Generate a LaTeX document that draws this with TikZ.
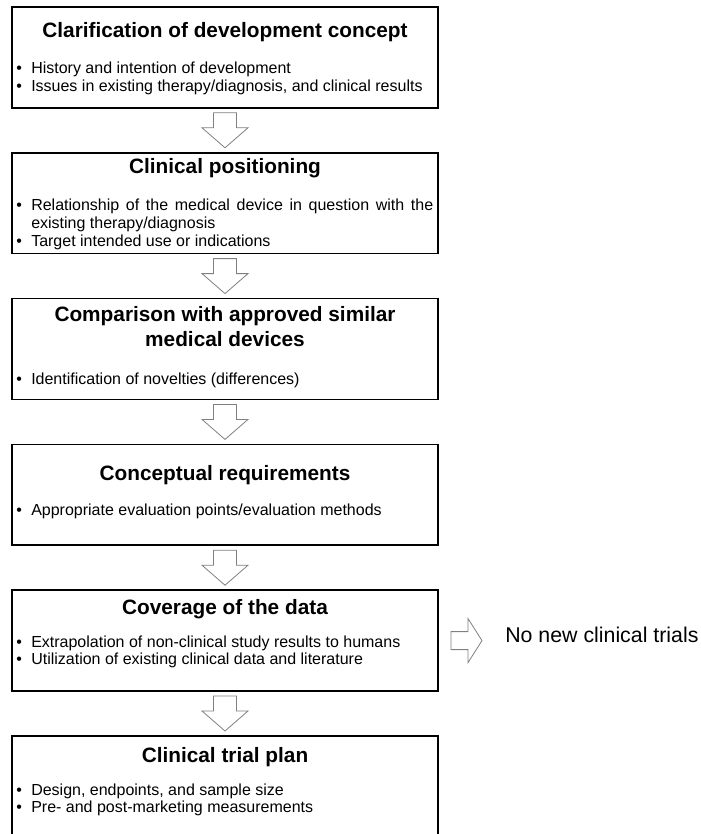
\documentclass[tikz,border=0pt]{standalone}
\usepackage{fontspec}
\setmainfont{Liberation Sans}
\usepackage{tikz}
\usetikzlibrary{positioning, calc}
\definecolor{ArrowGray}{HTML}{808080}
\newcommand{\bul}[1]{\noindent\hangindent=11.25pt\makebox[11.25pt][l]{\textbullet}#1\par}

\begin{document}
\begin{tikzpicture}[
  node distance = 33.75pt,
  stage/.style  = {draw, line width=1.1pt, outer sep=0pt,
                   minimum width=319.5pt, minimum height=75.6pt},
  head/.style   = {inner sep=0pt, align=center,
                   font=\fontsize{15.6pt}{18.75pt}\selectfont\bfseries},
  items/.style  = {inner sep=0pt, text width=312.75pt, align=justify,
                   font=\fontsize{12pt}{13.3pt}\selectfont},
  note/.style   = {inner sep=0pt, font=\fontsize{16pt}{19pt}\selectfont},
  hollow/.style = {draw=ArrowGray, fill=white, line width=0.6pt},
]
\useasboundingbox (0,0) rectangle (525pt,-625.5pt);
% stage boxes
\node[stage, anchor=north] (s1) at (168.75pt,-5.25pt) {};
\node[stage, below=of s1] (s2) {};
\node[stage, below=of s2] (s3) {};
\node[stage, below=of s3] (s4) {};
\node[stage, below=of s4] (s5) {};
\node[stage, below=of s5] (s6) {};
% titles
\node[head, below=23.25pt of s1.north, anchor=base] (h1) {Clarification of development concept};
\node[head, below=15.75pt of s2.north, anchor=base] (h2) {Clinical positioning};
\node[head, below=36pt    of s3.north, anchor=base] (h3) {Comparison with approved similar\\medical devices};
\node[head, below=27pt    of s4.north, anchor=base] (h4) {Conceptual requirements};
\node[head, below=18pt    of s5.north, anchor=base] (h5) {Coverage of the data};
\node[head, below=19.5pt  of s6.north, anchor=base] (h6) {Clinical trial plan};
% bullet lists
\node[items, below right=50.25pt and 3pt of s1.north west, anchor=base west] (l1)
  {\bul{History and intention of development}\bul{Issues in existing therapy/diagnosis, and clinical results}};
\node[items, below right=43.5pt and 3pt of s2.north west, anchor=base west] (l2)
  {\bul{Relationship of the medical device in question with the existing therapy/diagnosis}\bul{Target intended use or indications}};
\node[items, below right=64.5pt and 3pt of s3.north west, anchor=base west] (l3)
  {\bul{Identification of novelties (differences)}};
\node[items, below right=53.25pt and 3pt of s4.north west, anchor=base west] (l4)
  {\bul{Appropriate evaluation points/evaluation methods}};
\node[items, below right=42.75pt and 3pt of s5.north west, anchor=base west] (l5)
  {\bul{Extrapolation of non-clinical study results to humans}\bul{Utilization of existing clinical data and literature}};
\node[items, below right=44.25pt and 3pt of s6.north west, anchor=base west] (l6)
  {\bul{Design, endpoints, and sample size}\bul{Pre- and post-marketing measurements}};
% side outcome
\node[note, anchor=base west] (nonew) at ($(s5.east)+(50.25pt,-1.1pt)$) {No new clinical trials};
% block arrows
\foreach \a/\b in {s1/s2,s2/s3,s3/s4,s4/s5,s5/s6}
  \draw[hollow] ($(\a.south)+(-8.625pt,-3.75pt)$) -- ++(17.25pt,0) -- ++(0,-11.25pt)
    -- ++(8.625pt,0) -- ($(\b.north)+(0,3.75pt)$) -- ++(-17.25pt,15pt) -- ++(8.625pt,0) -- cycle;
\draw[hollow] ($(s5.east)+(9.75pt,6.75pt)$) -- ++(12.75pt,0) -- ++(0,9.75pt)
  -- ($(s5.east -| nonew.west)+(-17.25pt,0)$) -- ++(-10.5pt,-16.5pt) -- ++(0,9.75pt)
  -- ++(-12.75pt,0) -- cycle;
\end{tikzpicture}
\end{document}
